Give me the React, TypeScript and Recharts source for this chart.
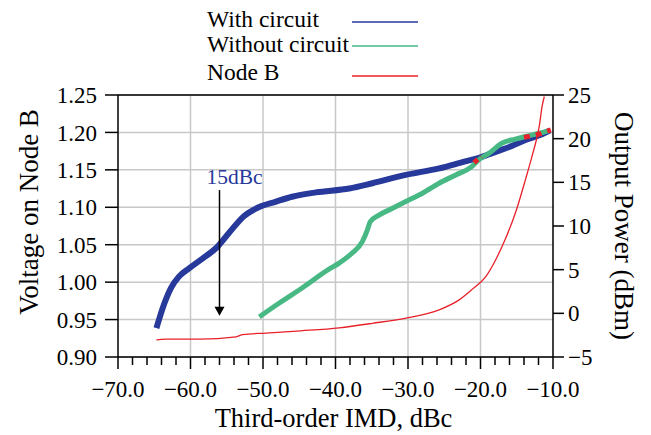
import React from "react";
import {
  CartesianGrid,
  Legend,
  Line,
  LineChart,
  ReferenceLine,
  XAxis,
  YAxis,
} from "recharts";

// x: third-order IMD (dBc), y: output power (dBm, right axis)
const withCircuitImd = [-64.7, -63.6, -62.7, -61.6, -60.2, -58.3, -56.5, -54.7, -52.6, -50.6, -48.2, -46.0, -42.7, -38.1, -34.9, -30.3, -25.7, -22.1, -20.2, -18.4, -15.6, -13.8, -11.7, -10.4];
const withCircuitPower = [-1.7, 1.15, 2.9, 4.2, 5.15, 6.3, 7.45, 9.2, 11.15, 12.15, 12.8, 13.35, 13.85, 14.3, 14.9, 15.85, 16.6, 17.4, 17.8, 18.35, 19.2, 19.85, 20.45, 20.95];

const withoutCircuitImd = [-50.5, -47.8, -44.6, -41.0, -39.5, -37.7, -36.3, -35.6, -35.2, -34.0, -32.2, -30.3, -28.0, -25.7, -23.4, -21.2, -20.2, -18.8, -17.0, -15.2, -13.8, -11.7, -10.4];
const withoutCircuitPower = [-0.4, 1.15, 2.9, 5.0, 5.75, 6.9, 8.2, 9.55, 10.5, 11.25, 12.0, 12.8, 13.75, 14.9, 15.85, 16.8, 17.6, 18.35, 19.5, 19.95, 20.25, 20.65, 20.95];

// Node B voltage (left axis)
const nodeBImd = [-64.7, -63.4, -58.8, -53.7, -52.8, -49.6, -44.8, -39.5, -34.9, -30.3, -25.7, -23.0, -21.2, -19.3, -17.9, -16.6, -15.2, -13.8, -12.9, -11.9, -11.5, -11.2];
const nodeBVoltage = [0.923, 0.924, 0.924, 0.927, 0.93, 0.932, 0.935, 0.939, 0.945, 0.952, 0.963, 0.976, 0.99, 1.007, 1.03, 1.057, 1.092, 1.137, 1.168, 1.208, 1.235, 1.248];

// red dashed overlay segments (right axis)
const dashAImd = [-20.9, -19.9];
const dashAPower = [17.25, 17.95];
const dashBImd = [-14.0, -12.0, -10.3];
const dashBPower = [20.15, 20.5, 21.0];

const xTicks = [-70, -68, -66, -64, -62, -60, -58, -56, -54, -52, -50, -48, -46, -44, -42, -40, -38, -36, -34, -32, -30, -28, -26, -24, -22, -20, -18, -16, -14, -12, -10];
const xGrid = [-60, -50, -40, -30, -20];
const leftTicks = [0.9, 0.95, 1.0, 1.05, 1.1, 1.15, 1.2, 1.25];
const rightTicks = [-5, 0, 5, 10, 15, 20, 25];

const arrowImd = -56;
const arrowTop = 1.123;
const arrowBottom = 0.955;

const FONT = "'Liberation Serif', 'Times New Roman', serif";
const BLUE = "#27399a";
const GREEN = "#48b984";
const RED = "#e8202a";
const GRID = "#c8c8c8";

const zip = (xs: number[], ys: number[]) => xs.map((x, i) => ({ x, y: ys[i] }));

const legendRows = [
  { name: "With circuit", color: BLUE, lineY: 22, textY: 27 },
  { name: "Without circuit", color: GREEN, lineY: 46, textY: 52 },
  { name: "Node B", color: RED, lineY: 76, textY: 80 },
];

const minus = (s: string) => s.replace("-", "\u2212");

function LegendBox() {
  return (
    <svg width={230} height={90}>
      {legendRows.map((r) => (
        <g key={r.name}>
          <text x={2} y={r.textY} fontFamily={FONT} fontSize={23.5} fill="#000">
            {r.name}
          </text>
          <line x1={147} x2={213} y1={r.lineY} y2={r.lineY} stroke={r.color} strokeWidth={1.6} />
        </g>
      ))}
    </svg>
  );
}

function XTick(props: any) {
  const { x, y, payload } = props;
  const v = payload.value as number;
  const major = v % 10 === 0;
  return (
    <g>
      <line x1={x} x2={x} y1={y} y2={y + (major ? 12 : 8)} stroke="#000" strokeWidth={1.5} />
      {major && (
        <text x={x} y={y + 40} textAnchor="middle" fontFamily={FONT} fontSize={23} fill="#000">
          {minus(v.toFixed(1))}
        </text>
      )}
    </g>
  );
}

function XTitle(props: any) {
  const { viewBox } = props;
  return (
    <text x={viewBox.x + viewBox.width / 2 - 2} y={427} textAnchor="middle" fontFamily={FONT} fontSize={26.5} fill="#000">
      Third-order IMD, dBc
    </text>
  );
}

function LeftTitle(props: any) {
  const { viewBox } = props;
  const cx = viewBox.x + 29;
  const cy = viewBox.y + viewBox.height / 2 - 14;
  return (
    <text
      x={cx}
      y={cy}
      transform={`rotate(-90 ${cx} ${cy})`}
      textAnchor="middle"
      dominantBaseline="central"
      fontFamily={FONT}
      fontSize={27}
      fill="#000"
    >
      Voltage on Node B
    </text>
  );
}

function RightTitle(props: any) {
  const { viewBox } = props;
  const cx = viewBox.x + 71;
  const cy = viewBox.y + viewBox.height / 2;
  return (
    <text
      x={cx}
      y={cy}
      transform={`rotate(90 ${cx} ${cy})`}
      textAnchor="middle"
      dominantBaseline="central"
      fontFamily={FONT}
      fontSize={27}
      fill="#000"
    >
      Output Power (dBm)
    </text>
  );
}

function Arrow(props: any) {
  const { x1, y1, y2 } = props;
  const top = Math.min(y1, y2);
  const bot = Math.max(y1, y2);
  return (
    <g>
      <text x={x1 + 15} y={top - 6} textAnchor="middle" fontFamily={FONT} fontSize={21.5} fill={BLUE}>
        15dBc
      </text>
      <line x1={x1} x2={x1} y1={top} y2={bot - 8} stroke="#000" strokeWidth={1.5} />
      <path d={`M${x1 - 5},${bot - 9} L${x1 + 5},${bot - 9} L${x1},${bot} Z`} fill="#000" />
    </g>
  );
}

export default function App() {
  return (
    <div style={{ position: "absolute", left: 0, top: 0 }}>
      <LineChart width={651} height={435} margin={{ top: 95, right: 0, bottom: 0, left: 0 }}>
        <CartesianGrid
          yAxisId="left"
          stroke={GRID}
          strokeWidth={1.5}
          horizontalValues={leftTicks}
          verticalValues={xGrid}
        />
        <XAxis
          type="number"
          dataKey="x"
          domain={[-70, -10]}
          ticks={xTicks}
          interval={0}
          height={78}
          tickLine={false}
          tickSize={0}
          tickMargin={0}
          tick={<XTick />}
          axisLine={{ stroke: "#000", strokeWidth: 1.5 }}
          allowDuplicatedCategory={false}
          label={<XTitle />}
        />
        <YAxis
          yAxisId="left"
          type="number"
          domain={[0.9, 1.25]}
          ticks={leftTicks}
          interval={0}
          width={118}
          tickSize={13}
          tickMargin={8}
          tickFormatter={(v: number) => v.toFixed(2)}
          tick={{ fontFamily: FONT, fontSize: 23, fill: "#000" }}
          tickLine={{ stroke: "#000", strokeWidth: 1.5 }}
          axisLine={{ stroke: "#000", strokeWidth: 1.5 }}
          label={<LeftTitle />}
        />
        <YAxis
          yAxisId="right"
          orientation="right"
          type="number"
          domain={[-5, 25]}
          ticks={rightTicks}
          interval={0}
          width={98}
          tickSize={11}
          tickMargin={4}
          tickFormatter={(v: number) => minus(String(v))}
          tick={{ fontFamily: FONT, fontSize: 23, fill: "#000", textAnchor: "start" }}
          tickLine={{ stroke: "#000", strokeWidth: 1.5 }}
          axisLine={{ stroke: "#000", strokeWidth: 1.5 }}
          label={<RightTitle />}
        />
        <ReferenceLine yAxisId="left" y={1.25} stroke="#000" strokeWidth={1.5} />
        <Legend
          layout="vertical"
          align="center"
          verticalAlign="middle"
          content={<LegendBox />}
          wrapperStyle={{ top: 0, left: 205, width: 230, height: 90 }}
        />
        <Line
          yAxisId="right"
          data={zip(withCircuitImd, withCircuitPower)}
          dataKey="y"
          name="With circuit"
          type="monotone"
          stroke={BLUE}
          strokeWidth={6}
          dot={false}
          isAnimationActive={false}
        />
        <Line
          yAxisId="right"
          data={zip(withoutCircuitImd, withoutCircuitPower)}
          dataKey="y"
          name="Without circuit"
          type="monotone"
          stroke={GREEN}
          strokeWidth={5}
          dot={false}
          isAnimationActive={false}
        />
        <Line
          yAxisId="left"
          data={zip(nodeBImd, nodeBVoltage)}
          dataKey="y"
          name="Node B"
          type="monotone"
          stroke={RED}
          strokeWidth={1.3}
          dot={false}
          isAnimationActive={false}
        />
        <Line
          yAxisId="right"
          data={zip(dashAImd, dashAPower)}
          dataKey="y"
          type="linear"
          stroke={RED}
          strokeWidth={5}
          strokeDasharray="5 4"
          dot={false}
          legendType="none"
          isAnimationActive={false}
        />
        <Line
          yAxisId="right"
          data={zip(dashBImd, dashBPower)}
          dataKey="y"
          type="linear"
          stroke={RED}
          strokeWidth={5}
          strokeDasharray="6 6"
          dot={false}
          legendType="none"
          isAnimationActive={false}
        />
        <ReferenceLine
          yAxisId="left"
          segment={[
            { x: arrowImd, y: arrowTop },
            { x: arrowImd, y: arrowBottom },
          ]}
          shape={<Arrow />}
        />
      </LineChart>
    </div>
  );
}
